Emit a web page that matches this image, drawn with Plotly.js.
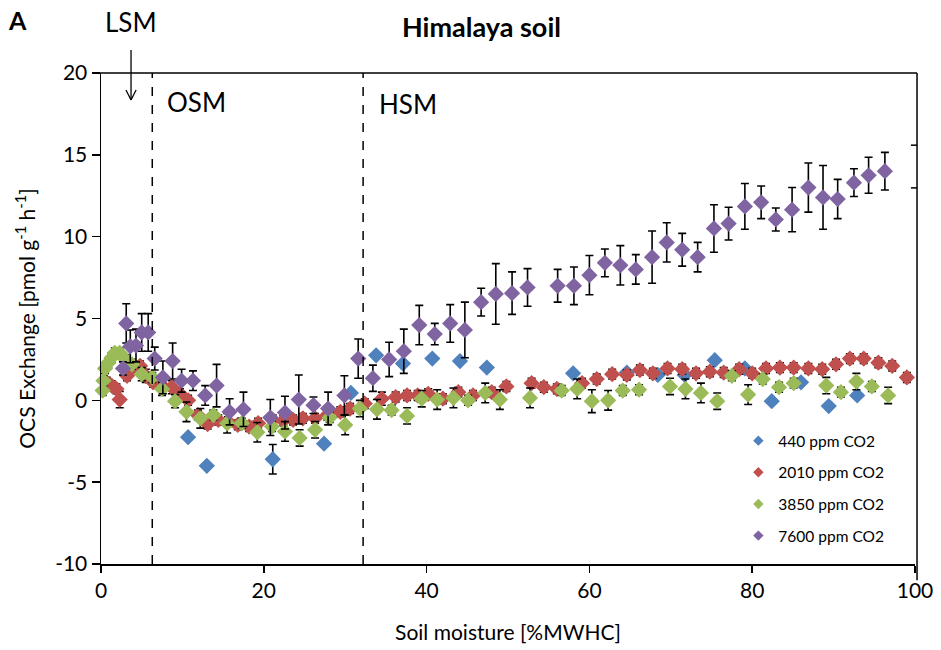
<!DOCTYPE html>
<html>
<head>
<meta charset="utf-8">
<script src="https://cdn.plot.ly/plotly-3.0.1.min.js"></script>
<style>html,body{margin:0;padding:0;background:#fff;}#chart{width:941px;height:650px;}</style>
</head>
<body>
<div id="chart"></div>
<script>
// ---- Data ----
const seriesNames = ["440 ppm CO2", "2010 ppm CO2", "3850 ppm CO2", "7600 ppm CO2"];

const x440 = [10.7, 13.0, 21.1, 27.4, 30.7, 33.8, 37.1, 40.7, 44.1, 47.4, 58.0, 64.6, 68.4, 71.7, 75.4, 79.1, 82.4, 86.0, 89.4, 92.9];
const y440 = [-2.25, -4.0, -3.6, -2.65, 0.45, 2.75, 2.25, 2.55, 2.4, 2.0, 1.65, 1.7, 1.55, 1.55, 2.45, 1.95, -0.05, 1.1, -0.35, 0.3];
const e440 = [0, 0, 0.9, 0, 0, 0, 0, 0, 0, 0, 0, 0, 0, 0, 0, 0, 0, 0, 0, 0];

const x2010 = [0.7, 1.3, 1.9, 2.3, 3.2, 4.0, 4.8, 5.5, 6.4, 7.5, 8.7, 9.7, 10.7, 11.9, 13.1, 14.4, 15.6, 16.8, 18.2, 19.3,
  21.1, 22.4, 23.6, 24.8, 26.3, 27.8, 29.4, 30.6, 32.4, 34.5, 36.2, 37.6, 38.9, 40.2, 42.0, 43.9, 45.7, 48.0, 49.8, 52.9,
  54.4, 56.0, 59.1, 60.9, 62.8, 64.6, 66.2, 67.8, 69.6, 71.4, 73.1, 74.8, 76.5, 78.4, 80.0, 81.7, 83.4, 85.1, 86.9, 88.6,
  90.3, 92.0, 93.7, 95.5, 97.2, 99.0];
const y2010 = [1.1, 0.9, 0.7, 0.05, 1.5, 2.0, 2.1, 1.5, 1.1, 0.9, 0.8, 0.4, 0.0, -0.9, -1.45, -1.2, -1.3, -1.5, -1.6, -1.4,
  -1.2, -1.25, -1.2, -1.1, -1.1, -0.9, -0.7, -0.5, -0.2, 0.1, 0.2, 0.3, 0.3, 0.4, 0.1, 0.5, 0.3, 0.5, 0.85, 1.05,
  0.8, 0.7, 1.05, 1.3, 1.6, 1.55, 1.85, 1.65, 1.95, 1.9, 1.65, 1.75, 1.7, 1.9, 1.65, 1.95, 2.0, 2.0, 1.95, 1.9,
  2.2, 2.55, 2.55, 2.3, 2.1, 1.4];
const e2010 = [0.3, 0.3, 0.3, 0.5, 0.3, 0.3, 0.3, 0.4, 0.3, 0.4, 0.4, 0.3, 0.3, 0.3, 0.3, 0.3, 0.3, 0.3, 0.3, 0.3,
  0.3, 0.3, 0.3, 0.3, 0.3, 0.3, 0.3, 0.3, 0.3, 0.4, 0.3, 0.3, 0.3, 0.3, 0.3, 0.3, 0.3, 0.3, 0.3, 0.3,
  0.3, 0.3, 0.3, 0.3, 0.3, 0.3, 0.3, 0.3, 0.3, 0.3, 0.3, 0.3, 0.3, 0.3, 0.3, 0.3, 0.3, 0.3, 0.3, 0.3,
  0.3, 0.3, 0.3, 0.3, 0.3, 0.3];

const x3850 = [0.2, 0.3, 0.5, 0.9, 1.3, 1.7, 2.3, 3.0, 3.8, 5.0, 6.3, 7.5, 9.1, 10.5, 12.2, 13.8, 15.5, 17.3, 19.2, 21.0,
  22.6, 24.4, 26.3, 28.1, 30.0, 31.8, 33.9, 35.7, 37.6, 39.4, 41.3, 43.3, 45.1, 47.2, 49.0, 52.7, 56.6, 58.5, 60.3, 62.3,
  64.1, 66.1, 69.9, 71.8, 73.7, 75.7, 77.5, 79.5, 81.3, 83.3, 85.1, 89.1, 90.9, 92.8, 94.7, 96.7];
const y3850 = [0.6, 1.2, 1.95, 2.3, 2.6, 2.9, 2.9, 2.5, 2.2, 1.6, 1.4, 0.7, -0.05, -0.7, -1.1, -0.9, -1.4, -1.4, -1.95, -1.6,
  -1.9, -2.3, -1.8, -1.05, -1.5, -0.5, -0.55, -0.6, -0.95, 0.1, 0.05, 0.15, 0.0, 0.45, 0.05, 0.15, 0.6, 0.7, -0.05, 0.0,
  0.6, 0.65, 0.85, 0.7, 0.45, -0.05, 1.5, 0.35, 1.3, 0.8, 1.05, 0.9, 0.5, 1.15, 0.85, 0.3];
const e3850 = [0.3, 0.3, 0.3, 0.3, 0.3, 0.3, 0.3, 0.3, 0.3, 0.4, 0.3, 0.4, 0.4, 0.6, 0.6, 0.3, 0.6, 0.3, 0.6, 0.3,
  0.6, 0.5, 0.5, 0.3, 0.6, 0.5, 0.6, 0.3, 0.5, 0.5, 0.6, 0.6, 0.3, 0.6, 0.6, 0.6, 0.3, 0.6, 0.7, 0.6,
  0.3, 0.3, 0.5, 0.6, 0.6, 0.5, 0.3, 0.6, 0.3, 0.3, 0.3, 0.5, 0.3, 0.5, 0.3, 0.5];

const x7600 = [2.7, 3.1, 3.6, 4.3, 5.0, 5.8, 6.6, 7.6, 8.8, 9.9, 11.3, 12.8, 14.2, 15.8, 17.5, 20.8, 22.6, 24.3, 26.1, 27.9,
  29.9, 31.6, 33.4, 35.4, 37.2, 39.1, 41.0, 42.9, 44.7, 46.7, 48.5, 50.5, 52.4, 56.1, 58.1, 60.0, 61.9, 63.8, 65.7, 67.7,
  69.5, 71.4, 73.3, 75.3, 77.1, 79.1, 81.1, 82.9, 84.9, 86.9, 88.7, 90.5, 92.5, 94.3, 96.3];
const y7600 = [1.95, 4.7, 3.3, 3.35, 4.15, 4.15, 2.55, 1.4, 2.4, 1.2, 1.2, 0.3, 0.9, -0.7, -0.55, -1.05, -0.75, 0.05, -0.3, -0.5,
  0.3, 2.55, 1.35, 2.5, 3.0, 4.6, 4.05, 4.7, 4.3, 6.0, 6.5, 6.55, 6.9, 7.0, 7.0, 7.65, 8.4, 8.25, 8.0, 8.75,
  9.65, 9.2, 8.75, 10.5, 10.8, 11.85, 12.1, 11.05, 11.65, 13.0, 12.4, 12.3, 13.3, 13.75, 14.0];
const e7600 = [0.4, 1.2, 1.0, 1.0, 1.15, 1.15, 0.7, 1.0, 1.1, 0.7, 0.6, 0.6, 1.3, 0.8, 1.05, 1.1, 1.0, 1.5, 0.5, 1.0,
  1.2, 1.2, 0.8, 1.05, 1.35, 1.2, 0.65, 1.15, 1.7, 0.85, 1.85, 1.3, 1.15, 1.0, 1.15, 1.2, 0.85, 1.2, 0.9, 1.6,
  1.2, 1.0, 0.9, 1.45, 1.0, 1.4, 1.0, 0.7, 1.35, 1.5, 1.95, 1.2, 0.85, 1.1, 1.15];

const xTicks = [0, 20, 40, 60, 80, 100];
const xTickText = ["0", "20", "40", "60", "80", "100"];
const yTicks = [-10, -5, 0, 5, 10, 15, 20];
const yTickText = ["-10", "-5", "0", "5", "10", "15", "20"];
const zoneBounds = [6.3, 32.2];

// ---- Styling ----
const colors = ["#4F81BD", "#C0504D", "#9BBB59", "#8064A2"];
const FONT = "Lato, 'Liberation Sans', sans-serif";

const xs = [x440, x2010, x3850, x7600];
const ys = [y440, y2010, y3850, y7600];
const es = [e440, e2010, e3850, e7600];

const traces = [];
for (let i = 0; i < 4; i++) {
  traces.push({
    type: "scatter", mode: "markers", name: seriesNames[i], showlegend: false,
    x: xs[i], y: ys[i],
    marker: {symbol: "diamond", size: 12.5, color: colors[i], line: {width: 0}},
    error_y: {type: "data", array: es[i], visible: true, color: "#000", thickness: 1.6, width: 4},
    cliponaxis: false
  });
}
// legend entries (smaller symbols like the reference)
for (let i = 0; i < 4; i++) {
  traces.push({
    type: "scatter", mode: "markers", name: seriesNames[i], x: [null], y: [null],
    legendgroup: "g" + i,
    marker: {symbol: "diamond", size: 8, color: colors[i]}
  });
}

const shapes = [];
zoneBounds.forEach(b => shapes.push({
  type: "line", xref: "x", yref: "paper", x0: b, x1: b, y0: 0, y1: 1,
  line: {color: "#000", width: 1.5, dash: "dash"}
}));
// top border and right frame line
shapes.push({type: "line", xref: "paper", yref: "paper", x0: -0.01, x1: 1.0025, y0: 1, y1: 1, line: {color: "#000", width: 1.5}});
shapes.push({type: "line", xref: "paper", yref: "paper", x0: 1.0025, x1: 1.0025, y0: -0.033, y1: 1, line: {color: "#000", width: 1.5}});
shapes.push({type: "line", xref: "paper", yref: "paper", x0: 0.995, x1: 1.0025, y0: 0.853, y1: 0.853, line: {color: "#000", width: 1.5}});
shapes.push({type: "line", xref: "paper", yref: "paper", x0: 0.995, x1: 1.0025, y0: 0.766, y1: 0.766, line: {color: "#000", width: 1.5}});
// LSM arrow
shapes.push({type: "line", xref: "paper", yref: "paper", x0: 0.0369, x1: 0.0369, y0: 1.047, y1: 0.945, line: {color: "#000", width: 1.3}});
shapes.push({type: "line", xref: "paper", yref: "paper", x0: 0.0307, x1: 0.0369, y0: 0.9654, y1: 0.945, line: {color: "#000", width: 1.3}});
shapes.push({type: "line", xref: "paper", yref: "paper", x0: 0.0431, x1: 0.0369, y0: 0.9654, y1: 0.945, line: {color: "#000", width: 1.3}});

function ann(text, x, y, size) {
  return {text: text, xref: "paper", yref: "paper", x: x, y: y, xanchor: "center", yanchor: "middle",
          showarrow: false, font: {family: FONT, size: size, color: "#000"}};
}
const annotations = [
  ann("<b>Himalaya soil</b>", 0.467, 1.095, 27),
  ann("<b>A</b>", -0.102, 1.108, 25),
  ann("LSM", 0.0369, 1.104, 26),
  ann("OSM", 0.117, 0.941, 26),
  ann("HSM", 0.377, 0.937, 26)
];

const layout = {
  width: 941, height: 650,
  margin: {l: 101, r: 26, t: 73, b: 86},
  paper_bgcolor: "#fff", plot_bgcolor: "#fff",
  font: {family: FONT, color: "#000"},
  xaxis: {
    range: [0, 100], tickvals: xTicks, ticktext: xTickText, ticks: "outside", ticklen: 7, tickwidth: 1.5, tickcolor: "#000",
    showline: true, linewidth: 1.5, linecolor: "#000", showgrid: false, zeroline: false,
    tickfont: {family: FONT, size: 21, color: "#000"},
    title: {text: "Soil moisture [%MWHC]", font: {family: FONT, size: 21, color: "#000"}, standoff: 24}
  },
  yaxis: {
    range: [-10, 20], tickvals: yTicks, ticktext: yTickText, ticks: "outside", ticklen: 8, tickwidth: 1.5, tickcolor: "#000",
    showline: true, linewidth: 1.5, linecolor: "#000", showgrid: false, zeroline: false,
    tickfont: {family: FONT, size: 21, color: "#000"},
    title: {text: "OCS Exchange [pmol g<sup>-1</sup> h<sup>-1</sup>]", font: {family: FONT, size: 21, color: "#000"}, standoff: 14}
  },
  legend: {
    x: 0.783, y: 0.285, xanchor: "left", yanchor: "top", bgcolor: "rgba(0,0,0,0)",
    font: {family: FONT, size: 15.5, color: "#000"}, tracegroupgap: 8.5, itemwidth: 30
  },
  shapes: shapes,
  annotations: annotations
};

Plotly.newPlot("chart", traces, layout, {displayModeBar: false, staticPlot: true});
</script>
</body>
</html>
